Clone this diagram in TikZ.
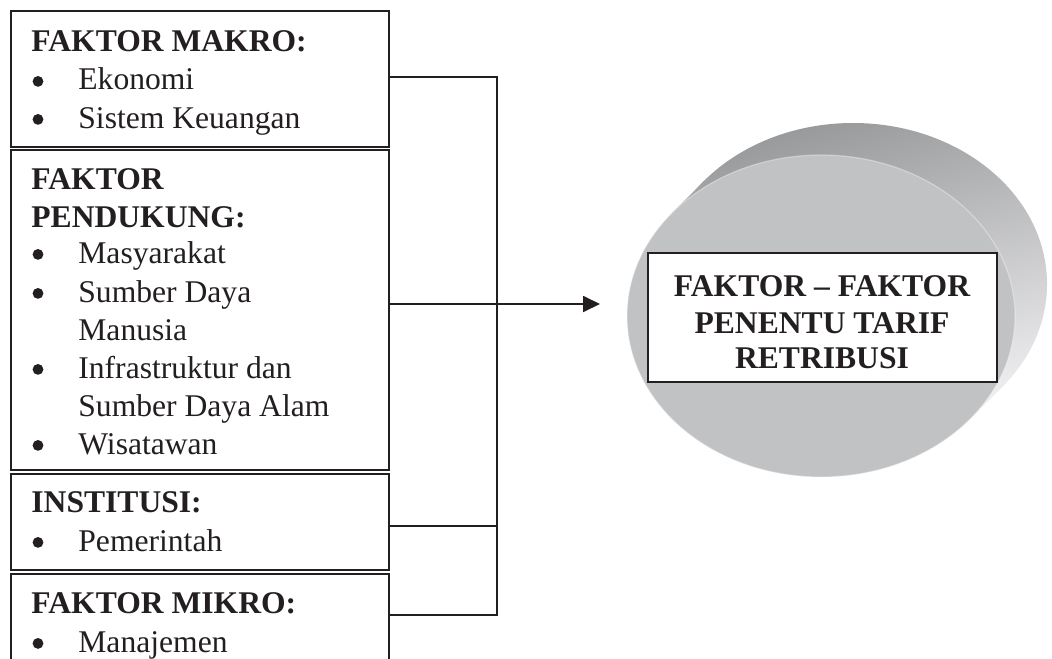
\documentclass[tikz,border=0pt]{standalone}
\usepackage{fontspec}
\setmainfont{Liberation Serif}
\usetikzlibrary{arrows.meta}
\definecolor{face}{HTML}{C1C2C4}
\definecolor{banddark}{HTML}{939496}
\definecolor{bandlight}{HTML}{EEEEF0}
\definecolor{ink}{HTML}{231F20}
\tikzset{
  txt/.style={inner sep=0pt, text=ink, font=\fontsize{15.8}{19}\selectfont},
  head/.style={txt, anchor=base west, font=\fontsize{15.8}{19}\selectfont\bfseries},
  itemtext/.style={txt, anchor=base west},
  bul/.style={circle, fill=ink, inner sep=0pt, minimum size=5.4pt, yshift=4.3pt},
  ctitle/.style={txt, anchor=base, font=\fontsize{15.8}{19}\selectfont\bfseries},
  panel/.style={draw=ink, line width=1pt, anchor=north west, inner sep=0pt, fill=white, minimum width=189pt},
  link/.style={draw=ink, line width=0.9pt},
}
\newcommand{\bandshade}{\shade[top color=banddark, bottom color=bandlight, shading angle=15] (620,115) rectangle (1052,420);}
\begin{document}
\begin{tikzpicture}[x=0.5pt,y=-0.5pt]
\useasboundingbox (0,0) rectangle (1052,658);
\clip (0,0) rectangle (1052,658);
\fill[white] (0,0) rectangle (1052,658);

% ---- cylinder (disc) ----
\begin{scope}
  \clip (853,284) ellipse [x radius=194, y radius=161];
  \bandshade
\end{scope}
\begin{scope}
  \clip (970.2,418.8) -- (1002.2,386.8) -- (703.8,181.2) -- (671.8,213.2) -- cycle;
  \bandshade
\end{scope}
\fill[face] (821,316) ellipse [x radius=194, y radius=161];
\draw[white, opacity=0.35, line width=0.6pt] (821,316) ellipse [x radius=194, y radius=161];

% ---- target box ----
\node[draw=ink, line width=1pt, fill=white, inner sep=0pt,
      minimum width=174.5pt, minimum height=64.5pt] (t) at (822.5,317.5) {};
\node[ctitle] (t1) at (822,296) {FAKTOR – FAKTOR};
\node[ctitle] (t2) at (822,333) {PENENTU TARIF};
\node[ctitle] (t3) at (822,368) {RETRIBUSI};

% ---- panels ----
\node[panel, minimum height=68pt] (b1) at (10,10) {};
\node[panel, minimum height=160pt] (b2) at (10,149) {};
\node[panel, minimum height=48pt] (b3) at (10,473) {};
\node[panel, minimum height=45pt] (b4) at (10,573) {};

% panel 1
\node[head] (h1) at (31,52) {FAKTOR MAKRO:};
\node[bul] (p1a) at (38,90) {};
\node[itemtext] (i1a) at (78,90) {Ekonomi};
\node[bul] (p1b) at (38,128) {};
\node[itemtext] (i1b) at (78,128) {Sistem Keuangan};

% panel 2
\node[head] (h2a) at (31,189) {FAKTOR};
\node[head] (h2b) at (31,227) {PENDUKUNG:};
\node[bul] (p2a) at (38,263) {};
\node[itemtext] (i2a) at (78,263) {Masyarakat};
\node[bul] (p2b) at (38,302) {};
\node[itemtext] (i2b) at (78,302) {Sumber Daya};
\node[itemtext] (i2c) at (78,340) {Manusia};
\node[bul] (p2d) at (38,378) {};
\node[itemtext] (i2d) at (78,378) {Infrastruktur dan};
\node[itemtext] (i2e) at (78,416) {Sumber Daya Alam};
\node[bul] (p2f) at (38,454) {};
\node[itemtext] (i2f) at (78,454) {Wisatawan};

% panel 3
\node[head] (h3) at (31,512) {INSTITUSI:};
\node[bul] (p3a) at (38,551) {};
\node[itemtext] (i3a) at (78,551) {Pemerintah};

% panel 4
\node[head] (h4) at (31,613) {FAKTOR MIKRO:};
\node[bul] (p4a) at (38,652) {};
\node[itemtext] (i4a) at (78,652) {Manajemen};

% ---- connectors ----
\coordinate (j1) at (497,77);
\coordinate (j3) at (497,526);
\coordinate (j4) at (497,615);
\coordinate (tip) at (600,304);
\draw[link] (b1.east |- j1) -- (j1) -- (j4) -- (b4.east |- j4);
\draw[link] (b3.east |- j3) -- (j3);
\draw[link, -{Triangle[length=8.5pt,width=8pt]}] (b2.east |- tip) -- (tip);
\end{tikzpicture}
\end{document}
